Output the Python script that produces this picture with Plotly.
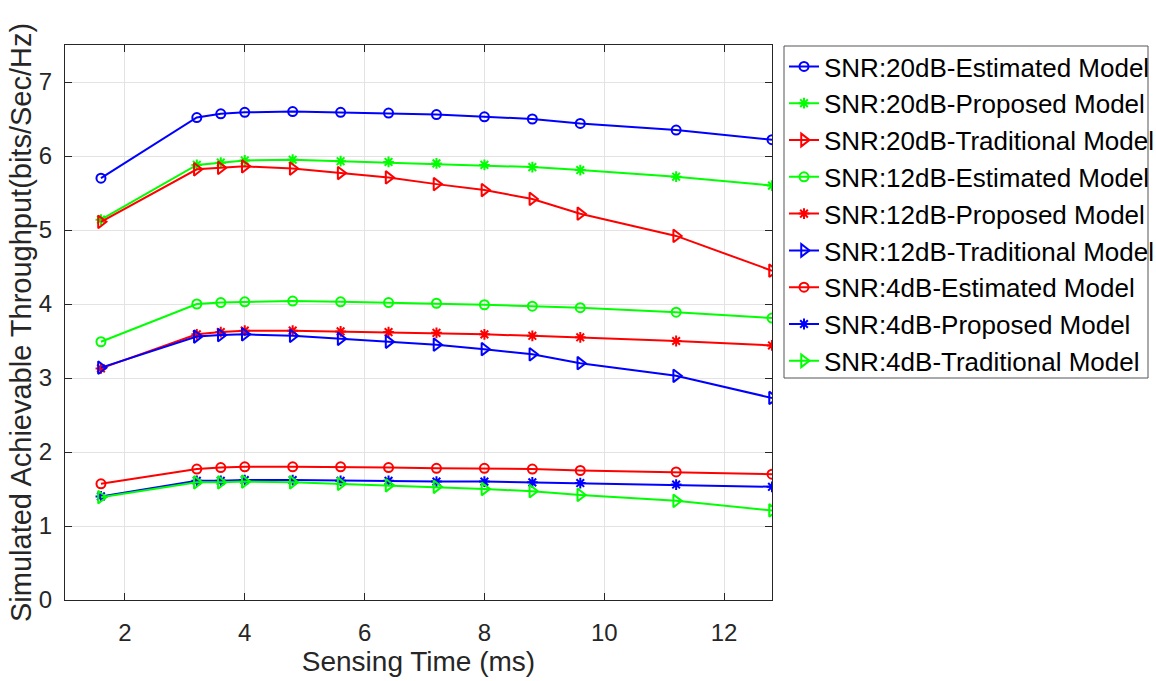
import plotly.graph_objects as go

sensing_time = [1.6, 3.2, 3.6, 4.0, 4.8, 5.6, 6.4, 7.2, 8.0, 8.8, 9.6, 11.2, 12.8]

snr20_estimated = [5.70, 6.52, 6.57, 6.59, 6.60, 6.59, 6.58, 6.56, 6.53, 6.50, 6.44, 6.35, 6.22]
snr20_proposed = [5.14, 5.88, 5.91, 5.94, 5.95, 5.93, 5.92, 5.90, 5.88, 5.85, 5.81, 5.72, 5.60]
snr20_traditional = [5.11, 5.82, 5.84, 5.86, 5.83, 5.77, 5.71, 5.62, 5.54, 5.42, 5.22, 4.92, 4.45]
snr12_estimated = [3.49, 4.00, 4.02, 4.03, 4.04, 4.03, 4.02, 4.01, 3.99, 3.97, 3.95, 3.89, 3.81]
snr12_proposed = [3.13, 3.59, 3.62, 3.64, 3.64, 3.63, 3.62, 3.61, 3.59, 3.57, 3.55, 3.50, 3.44]
snr12_traditional = [3.14, 3.56, 3.58, 3.59, 3.57, 3.53, 3.49, 3.45, 3.39, 3.32, 3.20, 3.03, 2.73]
snr4_estimated = [1.57, 1.77, 1.79, 1.80, 1.80, 1.80, 1.79, 1.78, 1.78, 1.77, 1.75, 1.73, 1.70]
snr4_proposed = [1.40, 1.61, 1.61, 1.62, 1.62, 1.61, 1.61, 1.60, 1.60, 1.59, 1.58, 1.56, 1.53]
snr4_traditional = [1.39, 1.59, 1.59, 1.60, 1.59, 1.57, 1.55, 1.53, 1.50, 1.47, 1.42, 1.34, 1.21]

series_names = [
    "SNR:20dB-Estimated Model", "SNR:20dB-Proposed Model", "SNR:20dB-Traditional Model",
    "SNR:12dB-Estimated Model", "SNR:12dB-Proposed Model", "SNR:12dB-Traditional Model",
    "SNR:4dB-Estimated Model", "SNR:4dB-Proposed Model", "SNR:4dB-Traditional Model",
]
series_values = [snr20_estimated, snr20_proposed, snr20_traditional,
                 snr12_estimated, snr12_proposed, snr12_traditional,
                 snr4_estimated, snr4_proposed, snr4_traditional]
series_colors = ["#0000FF", "#00FF00", "#FF0000",
                 "#00FF00", "#FF0000", "#0000FF",
                 "#FF0000", "#0000FF", "#00FF00"]
series_symbols = ["circle-open", "asterisk-open", "triangle-right-open"] * 3
symbol_sizes = {"circle-open": 9, "asterisk-open": 9, "triangle-right-open": 11}

x_ticks = [2, 4, 6, 8, 10, 12]
y_ticks = [0, 1, 2, 3, 4, 5, 6, 7]

x_title = "Sensing Time (ms)"
y_title = "Simulated Achievable Throughput(bits/Sec/Hz)"

FONT = "Liberation Sans, Arial, Helvetica, sans-serif"
AX = "#262626"

fig = go.Figure()
for name, vals, col, sym in zip(series_names, series_values, series_colors, series_symbols):
    fig.add_trace(go.Scatter(
        x=sensing_time, y=vals, name=name, mode="lines+markers",
        line=dict(color=col, width=2),
        marker=dict(symbol=sym, size=symbol_sizes[sym], color=col,
                    line=dict(color=col, width=2)),
    ))

W, H = 1156, 681
L, R, T, B = 65, 772, 45, 600

axis_common = dict(
    showline=True, linecolor=AX, linewidth=1, mirror="ticks",
    ticks="inside", ticklen=7, tickcolor=AX, tickwidth=1,
    showgrid=True, gridcolor="#e3e3e3", gridwidth=1,
    zeroline=False, tickfont=dict(family=FONT, size=24, color=AX),
)

fig.update_layout(
    width=W, height=H,
    margin=dict(l=L, r=W - R, t=T, b=H - B, autoexpand=False),
    paper_bgcolor="white", plot_bgcolor="white",
    font=dict(family=FONT, color=AX),
    xaxis=dict(range=[1, 12.8], tickvals=x_ticks, ticklabelstandoff=11,
               title=dict(text=x_title, font=dict(family=FONT, size=28, color=AX), standoff=6),
               **axis_common),
    yaxis=dict(range=[0, 7.5], tickvals=y_ticks, ticklabelstandoff=7,
               **axis_common),
    showlegend=True,
    legend=dict(xref="container", yref="container", x=784 / W, y=1 - 43 / H,
                xanchor="left", yanchor="top", bgcolor="rgba(0,0,0,0)", borderwidth=0,
                font=dict(family=FONT, size=26, color="black"), itemwidth=30),
    annotations=[dict(text=y_title, textangle=-90, showarrow=False,
                      xref="paper", yref="paper",
                      x=(21 - L) / (R - L), y=(B - 323) / (B - T),
                      xanchor="center", yanchor="middle",
                      font=dict(family=FONT, size=29, color=AX))],
    shapes=[dict(type="rect", xref="paper", yref="paper",
                 x0=(784 - L) / (R - L), x1=(1148 - L) / (R - L),
                 y0=(B - 378) / (B - T), y1=(B - 46) / (B - T),
                 line=dict(color="#555555", width=1), fillcolor="rgba(0,0,0,0)", layer="above")],
)

fig.write_html("out.html")
